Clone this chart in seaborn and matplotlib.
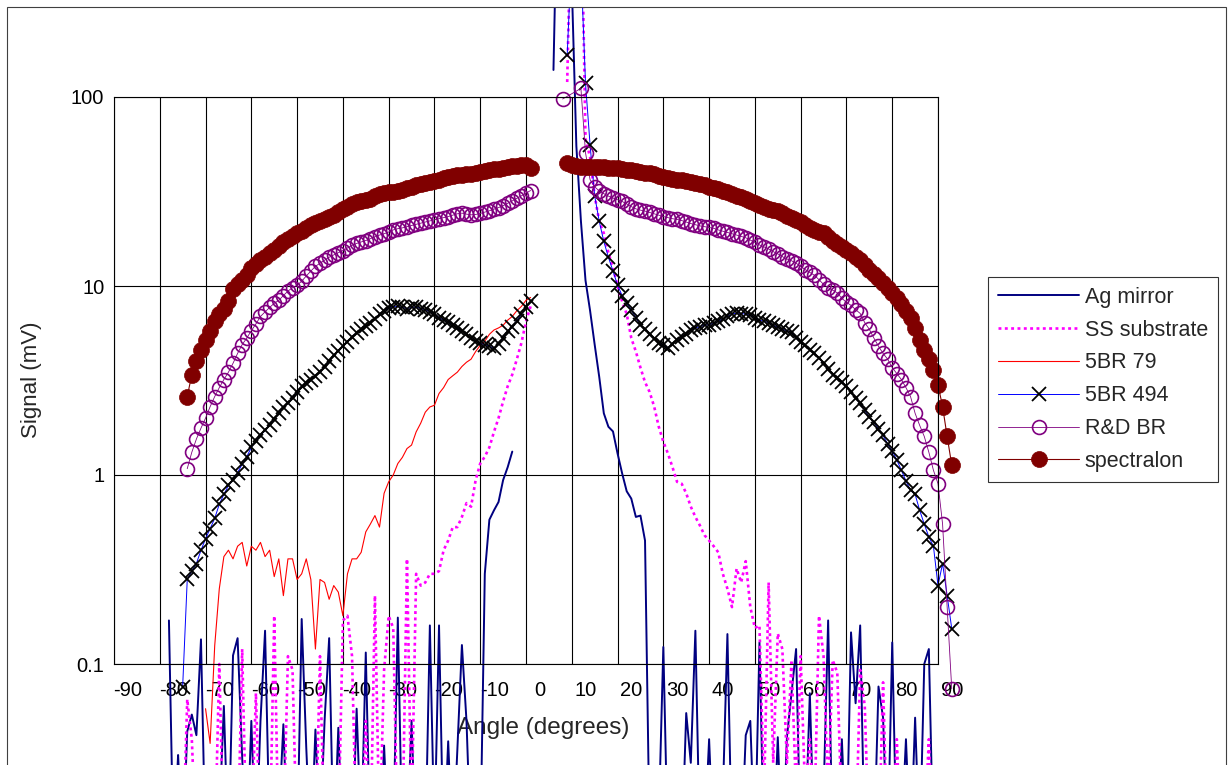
import numpy as np
import matplotlib
matplotlib.use('Agg')
import matplotlib.pyplot as plt
import matplotlib.transforms as mtransforms
from matplotlib.patches import Rectangle
from matplotlib.lines import Line2D
from matplotlib.ticker import NullLocator
import seaborn as sns

# ---- data (angle in degrees, signal in mV) ----
spec_ang_l = np.arange(-74, 2)
spec_l = [2.6, 3.4, 4.0, 4.6, 5.2, 5.8, 6.5, 7.1, 7.6, 8.3,
          9.6, 10.2, 10.8, 11.5, 12.5, 13.1, 13.7, 14.3, 14.9, 15.5,
          16.3, 17.1, 17.8, 18.5, 19.0, 19.6, 20.3, 20.9, 21.5, 22.0,
          22.5, 23.1, 23.8, 24.6, 25.5, 26.3, 27.2, 27.8, 28.0, 28.4,
          29.0, 29.8, 30.5, 31.0, 31.3, 31.6, 32.0, 32.4, 32.9, 33.5,
          34.1, 34.5, 35.0, 35.5, 35.8, 36.5, 37.3, 37.7, 38.0, 38.5,
          38.8, 39.1, 39.3, 39.6, 40.0, 40.5, 41.0, 41.4, 41.8, 42.3,
          42.6, 43.0, 43.4, 43.7, 43.5, 42.3]
spec_ang_r = np.arange(9, 94)
spec_r = [44.5, 43.8, 43.2, 42.8, 42.8, 42.8, 42.8, 42.6, 42.4, 42.2,
          42.1, 41.9, 41.6, 41.3, 41.0, 40.6, 40.2, 39.8, 39.4, 38.9,
          38.4, 37.9, 37.5, 37.0, 36.6, 36.2, 35.8, 35.4, 35.1, 34.7,
          34.1, 33.5, 33.0, 32.5, 32.0, 31.3, 30.8, 30.1, 29.4, 28.7,
          28.0, 27.4, 26.8, 26.2, 25.7, 25.2, 24.8, 24.3, 23.6, 23.0,
          22.4, 21.7, 21.0, 20.3, 19.7, 19.4, 19.1, 18.2, 17.3, 16.7,
          16.1, 15.5, 14.9, 14.3, 13.7, 12.9, 12.2, 11.6, 11.0, 10.4,
          9.8, 9.2, 8.6, 8.0, 7.4, 6.8, 6.0, 5.2, 4.6, 4.1,
          3.6, 3.0, 2.3, 1.6, 1.13]

rd_ang_l = np.arange(-74, 2)
rd_l = [1.08, 1.32, 1.55, 1.77, 2.0, 2.3, 2.6, 2.9, 3.2, 3.5,
        3.9, 4.4, 4.9, 5.3, 5.8, 6.3, 6.9, 7.3, 7.7, 8.1,
        8.4, 8.9, 9.4, 9.8, 10.1, 10.6, 11.3, 12.0, 12.7, 13.2,
        13.7, 14.2, 14.6, 15.0, 15.4, 15.9, 16.4, 16.8, 17.1, 17.4,
        17.8, 18.2, 18.6, 18.9, 19.3, 19.8, 20.1, 20.3, 20.6, 20.9,
        21.2, 21.5, 21.8, 22.1, 22.4, 22.7, 23.0, 23.3, 23.7, 24.1,
        24.3, 24.0, 23.8, 23.9, 24.2, 24.6, 25.0, 25.5, 26.0, 26.6,
        27.4, 28.2, 29.1, 30.0, 31.0, 32.0]
rd_ang_r = np.r_[8, np.arange(12, 94)]
rd_r = [97.6,
        111, 50.7, 36.5, 33.5, 31.8, 30.8, 29.9, 29.2, 28.6, 28.0,
        27.2, 26.3, 25.6, 25.2, 24.9, 24.5, 24.1, 23.7, 23.3, 23.0,
        22.7, 22.5, 22.2, 21.8, 21.4, 21.1, 20.8, 20.6, 20.4, 20.2,
        19.8, 19.5, 19.2, 18.9, 18.6, 18.3, 18.0, 17.5, 17.0, 16.5,
        16.1, 15.7, 15.2, 14.8, 14.3, 13.9, 13.6, 13.2, 12.7, 12.2,
        11.8, 11.4, 10.8, 10.2, 9.8, 9.5, 9.2, 8.6, 8.2, 7.9,
        7.5, 7.16, 6.4, 5.9, 5.3, 4.8, 4.4, 4.1, 3.7, 3.44,
        3.2, 2.9, 2.6, 2.12, 1.83, 1.6, 1.32, 1.06, 0.9, 0.55,
        0.2, 0.074]

br494_ang_l = np.arange(-75, 2)
br494_l = [0.076,
           0.28, 0.31, 0.34, 0.40, 0.46, 0.52, 0.59, 0.70, 0.79, 0.88,
           0.94, 1.03, 1.14, 1.25, 1.40, 1.52, 1.62, 1.72, 1.85, 1.97,
           2.13, 2.28, 2.40, 2.55, 2.75, 2.95, 3.08, 3.2, 3.35, 3.5,
           3.75, 4.0, 4.3, 4.55, 4.8, 5.07, 5.4, 5.65, 5.9, 6.15,
           6.4, 6.7, 7.1, 7.4, 7.65, 7.75, 7.8, 7.7, 7.6, 7.7,
           7.75, 7.6, 7.5, 7.3, 7.15, 6.8, 6.6, 6.45, 6.25, 6.0,
           5.8, 5.55, 5.3, 5.1, 4.97, 4.9, 4.8, 4.67, 4.95, 5.3,
           5.75, 6.1, 6.55, 7.1, 7.7, 8.3]
br494_ang_r = np.arange(9, 94)
br494_r = [167, 600, 900, 500, 118, 55.7, 30, 22, 17.2, 14.2,
           12.0, 10.1, 8.9, 8.1, 7.5, 6.8, 6.2, 5.9, 5.55, 5.25,
           5.0, 4.85, 4.7, 4.95, 5.2, 5.4, 5.6, 5.85, 6.0, 6.1,
           6.2, 6.25, 6.34, 6.5, 6.7, 6.9, 7.1, 7.2, 7.15, 7.1,
           7.0, 6.8, 6.6, 6.5, 6.4, 6.2, 6.05, 5.9, 5.8, 5.7,
           5.3, 5.05, 4.85, 4.6, 4.4, 4.15, 3.89, 3.65, 3.4, 3.25,
           3.1, 2.95, 2.75, 2.55, 2.39, 2.2, 2.02, 1.9, 1.76, 1.62,
           1.46, 1.34, 1.2, 1.06, 0.93, 0.83, 0.79, 0.65, 0.55, 0.47,
           0.42, 0.26, 0.34, 0.23, 0.154]

br79_ang = np.arange(-70, 2)
br79 = [0.058, 0.038, 0.125, 0.25, 0.37, 0.40, 0.36, 0.42, 0.44, 0.33,
        0.42, 0.40, 0.44, 0.37, 0.40, 0.29, 0.36, 0.23, 0.36, 0.36,
        0.28, 0.30, 0.36, 0.28, 0.12, 0.28, 0.27, 0.22, 0.26, 0.24,
        0.18, 0.30, 0.36, 0.36, 0.39, 0.50, 0.55, 0.61, 0.53, 0.80,
        0.92, 1.0, 1.15, 1.24, 1.38, 1.44, 1.69, 1.88, 2.15, 2.29,
        2.34, 2.7, 2.9, 3.2, 3.35, 3.5, 3.75, 3.95, 4.1, 4.5,
        4.85, 5.1, 5.55, 5.85, 6.0, 6.2, 6.6, 6.9, 7.4, 7.8,
        8.4, 8.7]

ss_ang_l = np.arange(-79, 2)
ss_l = [0.01, 0.01, 0.012, 0.01, 0.01, 0.065, 0.04, 0.01, 0.01, 0.012,
        0.01, 0.01, 0.1, 0.01, 0.012, 0.01, 0.01, 0.12, 0.01, 0.012,
        0.07, 0.01, 0.012, 0.01, 0.18, 0.01, 0.012, 0.11, 0.093, 0.01,
        0.012, 0.01, 0.012, 0.01, 0.11, 0.01, 0.012, 0.01, 0.012, 0.17,
        0.18, 0.11, 0.01, 0.012, 0.05, 0.01, 0.23, 0.012, 0.093, 0.18,
        0.155, 0.01, 0.012, 0.36, 0.015, 0.30, 0.26, 0.27, 0.30, 0.30,
        0.31, 0.40, 0.45, 0.53, 0.53, 0.6, 0.71, 0.68, 0.94, 1.15,
        1.25, 1.4, 1.69, 2.0, 2.45, 2.95, 3.4, 4.1, 5.0, 6.5,
        7.8]
ss_ang_r = np.arange(9, 90)
ss_r = [120, 1500, 2000, 1500, 60, 48, 30, 22, 19, 15,
        12.5, 10, 8.3, 7.1, 5.3, 4.5, 3.7, 3.1, 2.75, 2.3,
        1.8, 1.5, 1.3, 1.1, 0.92, 0.9, 0.8, 0.68, 0.6, 0.54,
        0.48, 0.45, 0.42, 0.39, 0.3, 0.25, 0.2, 0.32, 0.27, 0.35,
        0.2, 0.155, 0.16, 0.02, 0.27, 0.03, 0.145, 0.12, 0.03, 0.105,
        0.02, 0.11, 0.02, 0.04, 0.015, 0.18, 0.11, 0.02, 0.105, 0.09,
        0.015, 0.01, 0.012, 0.01, 0.093, 0.06, 0.01, 0.012, 0.01, 0.08,
        0.01, 0.012, 0.04, 0.01, 0.012, 0.01, 0.012, 0.01, 0.012, 0.04,
        0.01]

ag_ang_l = np.arange(-78, -2)
ag_l = [0.17, 0.01, 0.033, 0.01, 0.044, 0.054, 0.042, 0.135, 0.01, 0.012,
        0.01, 0.015, 0.06, 0.01, 0.111, 0.137, 0.032, 0.01, 0.05, 0.01,
        0.05, 0.15, 0.012, 0.01, 0.015, 0.048, 0.01, 0.012, 0.01, 0.173,
        0.036, 0.01, 0.045, 0.012, 0.05, 0.137, 0.01, 0.046, 0.01, 0.012,
        0.01, 0.058, 0.012, 0.115, 0.01, 0.012, 0.01, 0.037, 0.01, 0.012,
        0.176, 0.01, 0.012, 0.05, 0.01, 0.012, 0.01, 0.16, 0.012, 0.16,
        0.01, 0.039, 0.01, 0.035, 0.126, 0.05, 0.01, 0.012, 0.01, 0.3,
        0.58, 0.65, 0.72, 0.94, 1.1, 1.33]
ag_ang_r = np.arange(6, 90)
ag_r = [139, 2000, 3000, 2000, 400, 55, 22, 10.7, 7.4, 4.9,
        3.3, 2.12, 1.8, 1.7, 1.3, 1.02, 0.82, 0.75, 0.60, 0.61,
        0.45, 0.012, 0.01, 0.015, 0.123, 0.01, 0.01, 0.012, 0.01, 0.055,
        0.03, 0.15, 0.01, 0.012, 0.04, 0.01, 0.01, 0.02, 0.144, 0.01,
        0.012, 0.01, 0.042, 0.05, 0.01, 0.13, 0.01, 0.012, 0.01, 0.041,
        0.01, 0.041, 0.07, 0.12, 0.01, 0.012, 0.07, 0.01, 0.01, 0.02,
        0.17, 0.01, 0.012, 0.04, 0.01, 0.147, 0.062, 0.16, 0.01, 0.012,
        0.01, 0.076, 0.052, 0.01, 0.13, 0.01, 0.012, 0.04, 0.01, 0.052,
        0.01, 0.1, 0.12, 0.01]

series_names = ['Ag mirror', 'SS substrate', '5BR 79', '5BR 494', 'R&D BR', 'spectralon']
x_ticks = list(range(-90, 100, 10))
x_tick_labels = [str(t) for t in x_ticks]
y_ticks = [0.1, 1, 10, 100]
y_tick_labels = ['0.1', '1', '10', '100']

# ---- style ----
sns.set_style('white')
plt.rcParams['font.family'] = ['Liberation Sans', 'DejaVu Sans']
plt.rcParams['axes.unicode_minus'] = False

W, H = 1228, 765
fig = plt.figure(figsize=(W / 100, H / 100), dpi=100)
ax = fig.add_axes([114 / W, 1 - 664 / H, 824 / W, 567 / H])
ax.set_yscale('log')
ax.set_xlim(-90, 90)
ax.set_ylim(0.1, 100)

styles = {
    'Ag mirror': dict(color='#000080', lw=1.4),
    'SS substrate': dict(color='#FF00FF', lw=1.9, linestyle=(0, (1.1, 1.3))),
    '5BR 79': dict(color='#FF0000', lw=0.8),
    '5BR 494': dict(color='#0000FF', lw=0.7, marker='x', markersize=10,
                    markeredgecolor='black', markeredgewidth=1.3),
    'R&D BR': dict(color='#800080', lw=0.6, marker='o', markersize=10,
                   markerfacecolor='none', markeredgecolor='#800080', markeredgewidth=1.2),
    'spectralon': dict(color='#800000', lw=0.8, marker='o', markersize=11.5,
                       markerfacecolor='#800000', markeredgecolor='#800000', markeredgewidth=0.5),
}

segments = [
    ('Ag mirror', ag_ang_l, ag_l), ('Ag mirror', ag_ang_r, ag_r),
    ('SS substrate', ss_ang_l, ss_l), ('SS substrate', ss_ang_r, ss_r),
    ('5BR 79', br79_ang, br79),
    ('5BR 494', br494_ang_l, br494_l), ('5BR 494', br494_ang_r, br494_r),
    ('R&D BR', rd_ang_l, rd_l), ('R&D BR', rd_ang_r, rd_r),
    ('spectralon', spec_ang_l, spec_l), ('spectralon', spec_ang_r, spec_r),
]
for name, xs, ys in segments:
    sns.lineplot(x=xs, y=ys, ax=ax, estimator=None, sort=False, **styles[name])

# data runs outside the plot area (Excel style), clipped at the chart border
clip_rect = Rectangle((0, 0), 1, 1 - 7 / H, transform=fig.transFigure)
for ln in ax.lines:
    ln.set_clip_path(clip_rect)

# axes, grid, ticks
ax.set_xticks(x_ticks)
ax.set_xticklabels(x_tick_labels, fontsize=14.5)
ax.set_yticks(y_ticks)
ax.set_yticklabels(y_tick_labels, fontsize=14.5)
ax.yaxis.set_minor_locator(NullLocator())
ax.grid(True, which='major', color='black', lw=0.8)
ax.set_axisbelow(True)
for sp in ax.spines.values():
    sp.set_color('black')
    sp.set_linewidth(0.8)
ax.tick_params(axis='both', direction='out', length=6, width=0.8, color='black',
               labelcolor='black')
ax.tick_params(axis='x', pad=6)
ax.tick_params(axis='y', pad=1)

shift = mtransforms.ScaledTranslation(14 / 100, 0, fig.dpi_scale_trans)
for lab in ax.get_xticklabels():
    lab.set_transform(lab.get_transform() + shift)

ax.set_xlabel('Angle (degrees)', fontsize=17.5)
ax.xaxis.set_label_coords((543 - 114) / 824, -(728 - 664) / 567)
ax.xaxis.label.set_va('center')
ax.set_ylabel('Signal (mV)', fontsize=16)
ax.yaxis.set_label_coords((31 - 114) / 824, (664 - 380) / 567)
ax.yaxis.label.set_va('center')

# chart area border
fig.add_artist(Rectangle((7 / W, -0.05), (1226 - 7) / W, 1.05 - 7 / H,
                         transform=fig.transFigure, fill=False,
                         edgecolor='#404040', lw=0.8))

# legend
handles = [Line2D([], [], **styles[n]) for n in series_names]
leg = fig.legend(handles, series_names, loc='upper left',
                 bbox_to_anchor=(988 / W, 1 - 277 / H), frameon=True, fancybox=False,
                 edgecolor='black', fontsize=15.5, handlelength=3.8, handletextpad=0.25,
                 labelspacing=0.55, borderpad=0.45, borderaxespad=0, numpoints=1)
leg.get_frame().set_linewidth(0.8)

fig.savefig('out.png', dpi=100, facecolor='white')
